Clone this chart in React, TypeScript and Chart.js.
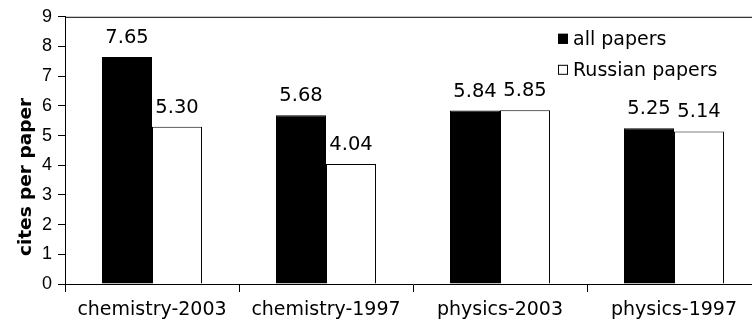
import React, { useEffect, useRef } from "react";
import { Chart, registerables } from "chart.js";

Chart.register(...registerables);

const categories = ["chemistry-2003", "chemistry-1997", "physics-2003", "physics-1997"];
const allPapers = [7.65, 5.68, 5.84, 5.25];
const russianPapers = [5.3, 4.04, 5.85, 5.14];
const seriesNames = ["all papers", "Russian papers"];
const seriesFill = ["#000000", "#ffffff"];
const yMin = 0;
const yMax = 9;
const yStep = 1;
const yTitle = "cites per paper";

const FONT = "'DejaVu Sans', Verdana, sans-serif";
const TICK_FONT = "'Liberation Sans', Arial, Helvetica, sans-serif";

const framePlugin = {
  id: "frame",
  afterDraw(chart: any) {
    const { ctx, chartArea } = chart;
    ctx.save();
    ctx.strokeStyle = "#000";
    ctx.lineWidth = 1;
    ctx.beginPath();
    ctx.moveTo(chartArea.left, chartArea.top + 0.5);
    ctx.lineTo(chartArea.right, chartArea.top + 0.5);
    ctx.moveTo(chartArea.right - 0.5, chartArea.top);
    ctx.lineTo(chartArea.right - 0.5, chartArea.bottom);
    ctx.stroke();
    ctx.restore();
  },
};

const valueLabelPlugin = {
  id: "valueLabels",
  afterDatasetsDraw(chart: any) {
    const { ctx } = chart;
    ctx.save();
    ctx.font = `19.5px ${FONT}`;
    ctx.fillStyle = "#000";
    ctx.textAlign = "center";
    ctx.textBaseline = "alphabetic";
    chart.data.datasets.forEach((ds: any, di: number) => {
      const meta = chart.getDatasetMeta(di);
      meta.data.forEach((bar: any, i: number) => {
        const v = ds.data[i] as number;
        ctx.fillText(v.toFixed(2), bar.x, bar.y - 14);
      });
    });
    ctx.restore();
  },
};

const legendPlugin = {
  id: "customLegend",
  afterDraw(chart: any) {
    const { ctx, chartArea } = chart;
    ctx.save();
    ctx.font = `19px ${FONT}`;
    ctx.textAlign = "left";
    ctx.textBaseline = "middle";
    chart.data.datasets.forEach((ds: any, i: number) => {
      const y = chartArea.top + 22 + i * 31;
      const x = 558;
      ctx.fillStyle = ds.backgroundColor;
      ctx.fillRect(x, y - 5, 10, 10);
      ctx.strokeStyle = "#000";
      ctx.lineWidth = 1;
      ctx.strokeRect(x + 0.5, y - 4.5, 9, 9);
      ctx.fillStyle = "#000";
      ctx.fillText(ds.label, x + 15, y + 1);
    });
    ctx.restore();
  },
};

const yTitlePlugin = {
  id: "yTitle",
  afterDraw(chart: any) {
    const { ctx } = chart;
    ctx.save();
    ctx.font = `bold 18.5px ${FONT}`;
    ctx.fillStyle = "#000";
    ctx.textAlign = "center";
    ctx.textBaseline = "alphabetic";
    ctx.translate(31, 177);
    ctx.rotate(-Math.PI / 2);
    ctx.fillText(yTitle, 0, 0);
    ctx.restore();
  },
};

export default function App() {
  const canvasRef = useRef<HTMLCanvasElement | null>(null);

  useEffect(() => {
    const canvas = canvasRef.current;
    if (!canvas) return;
    const chart = new Chart(canvas, {
      type: "bar",
      data: {
        labels: categories,
        datasets: [allPapers, russianPapers].map((d, i) => ({
          label: seriesNames[i],
          data: d,
          backgroundColor: seriesFill[i],
          borderColor: "#000",
          borderWidth: 1,
          barPercentage: 1,
          categoryPercentage: 0.575,
        })),
      },
      options: {
        responsive: false,
        animation: false,
        devicePixelRatio: 1,
        layout: { padding: { left: 0, top: 15, right: 1, bottom: 0 } },
        plugins: {
          legend: { display: false },
          tooltip: { enabled: false },
        },
        scales: {
          x: {
            grid: {
              drawOnChartArea: false,
              offset: true,
              tickLength: 8,
              color: "#000",
              tickColor: "#000",
            },
            border: { color: "#000", width: 1 },
            ticks: {
              color: "#000",
              font: { family: FONT, size: 19 },
              padding: 7,
              maxRotation: 0,
              autoSkip: false,
            },
            afterFit: (s: any) => {
              s.height = 44;
            },
          },
          y: {
            min: yMin,
            max: yMax,
            ticks: {
              stepSize: yStep,
              color: "#000",
              font: { family: TICK_FONT, size: 18 },
              padding: 6,
            },
            grid: {
              drawOnChartArea: false,
              tickLength: 7,
              color: "#000",
              tickColor: "#000",
            },
            border: { color: "#000", width: 1 },
            afterFit: (s: any) => {
              s.width = 65;
            },
          },
        },
      },
      plugins: [framePlugin, valueLabelPlugin, legendPlugin, yTitlePlugin],
    });
    return () => chart.destroy();
  }, []);

  return (
    <div
      style={{
        position: "absolute",
        left: 0,
        top: 0,
        width: 752,
        height: 328,
        overflow: "hidden",
        background: "#fff",
      }}
    >
      <canvas ref={canvasRef} width={762} height={328} style={{ width: 762, height: 328, display: "block" }} />
    </div>
  );
}
